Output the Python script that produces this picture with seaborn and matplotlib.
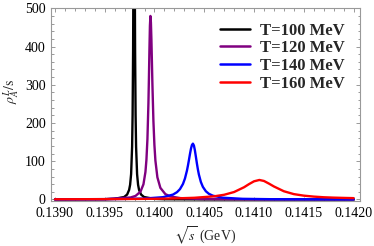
import numpy as np
import pandas as pd
import matplotlib
matplotlib.use("Agg")
import matplotlib.pyplot as plt
import seaborn as sns

# ---- data (sqrt(s) in GeV, rho_A^L / s) ----
x_T100 = [0.1390, 0.1395, 0.139595, 0.139695, 0.139725, 0.139745, 0.139755, 0.139765,
          0.139775, 0.139780, 0.139785, 0.139789, 0.139792, 0.139795, 0.139798, 0.139801,
          0.139805, 0.139810, 0.139815, 0.139825, 0.139835, 0.139845, 0.139865, 0.139895,
          0.139995, 0.140095, 0.1405, 0.1420]
y_T100 = [0.1, 0.7, 1.6, 6.4, 12.9, 25, 38.5, 66.4,
          138, 221, 390, 640, 877, 1000, 877, 640,
          390, 221, 138, 66.4, 38.5, 25, 12.9, 6.4,
          1.6, 0.7, 0.13, 0.0]

x_T120 = [0.1390, 0.1395, 0.139759, 0.139809, 0.139859, 0.139889, 0.139909, 0.139919,
          0.139929, 0.139939, 0.139944, 0.139949, 0.139954, 0.139959, 0.139964, 0.139969,
          0.139974, 0.139979, 0.139989, 0.139999, 0.140009, 0.140029, 0.140059, 0.140109,
          0.140159, 0.140259, 0.140459, 0.140959, 0.1420]
y_T120 = [0.23, 1.0, 5.2, 9.2, 20.3, 39.7, 72, 104,
          158, 252, 318, 391, 454, 480, 463, 418,
          360, 302, 206, 143, 102, 58, 30.4, 14.0,
          8.0, 3.6, 1.3, 0.32, 0.08]

x_T140 = [0.1390, 0.1395, 0.139886, 0.140086, 0.140186, 0.140226, 0.140256, 0.140286,
          0.140306, 0.140326, 0.140336, 0.140346, 0.140356, 0.140366, 0.140376, 0.140386,
          0.140396, 0.140406, 0.140416, 0.140426, 0.140436, 0.140446, 0.140466, 0.140486,
          0.140516, 0.140546, 0.140586, 0.140686, 0.140886, 0.141186, 0.1420]
y_T140 = [0.3, 0.7, 2.2, 6.0, 12.8, 19.1, 27.0, 40.5,
          54.8, 75.4, 88.5, 103.1, 118.3, 132.2, 142.3, 146,
          141.2, 128.4, 111.5, 94.3, 78.6, 65.3, 45.7, 33.0,
          21.5, 14.9, 9.9, 4.6, 1.7, 0.66, 0.16]

x_T160 = [0.1390, 0.1395, 0.1400, 0.1402, 0.1404, 0.1406, 0.1407, 0.1408,
          0.1409, 0.14095, 0.1410, 0.141054, 0.1411, 0.14115, 0.1412, 0.1413,
          0.1414, 0.1415, 0.1416, 0.1417, 0.1418, 0.1419, 0.1420]
y_T160 = [0.5, 0.8, 1.8, 2.7, 4.4, 8.3, 12.3, 19.5,
          32, 40.2, 47.5, 51, 48.4, 41.5, 34, 21.5,
          14, 10, 7.5, 5.8, 4.8, 4.1, 3.5]

labels = ["T=100 MeV", "T=120 MeV", "T=140 MeV", "T=160 MeV"]
colors = ["#000000", "#800080", "#0000ff", "#ff0000"]

xticks = [0.1390, 0.1395, 0.1400, 0.1405, 0.1410, 0.1415, 0.1420]
yticks = [0, 100, 200, 300, 400, 500]

# ---- build long table ----
frames = []
for xs, ys, lab in zip([x_T100, x_T120, x_T140, x_T160],
                       [y_T100, y_T120, y_T140, y_T160], labels):
    frames.append(pd.DataFrame({"x": xs, "y": ys, "T": lab}))
df = pd.concat(frames, ignore_index=True)

sns.set_style("ticks")
plt.rcParams["font.family"] = ["Liberation Serif", "DejaVu Serif"]
plt.rcParams["mathtext.fontset"] = "stix"

fig = plt.figure(figsize=(3.74, 2.46), dpi=100)
ax = fig.add_axes([50.7 / 374, 1 - 201 / 246, (360.3 - 50.7) / 374, (201 - 8.3) / 246])

sns.lineplot(data=df, x="x", y="y", hue="T", hue_order=labels,
             palette=dict(zip(labels, colors)), estimator=None, sort=False,
             linewidth=1.7, ax=ax)

ax.set_xlim(0.138957, 0.142068)
ax.set_ylim(-4, 500)
ax.set_xticks(xticks)
ax.set_xticklabels([f"{v:.4f}" for v in xticks])
ax.set_yticks(yticks)
ax.set_yticklabels([str(v) for v in yticks])
ax.xaxis.set_minor_locator(matplotlib.ticker.MultipleLocator(0.0001))
ax.yaxis.set_minor_locator(matplotlib.ticker.MultipleLocator(20))
ax.tick_params(which="both", direction="in", top=True, right=True,
               color="#999999", labelsize=10, labelcolor="black", width=0.7)
ax.tick_params(which="major", length=3.2)
ax.tick_params(axis="x", which="major", pad=4.0)
ax.tick_params(axis="y", which="major", pad=3.5)
ax.tick_params(which="minor", length=1.8)
for sp in ax.spines.values():
    sp.set_color("#999999")
    sp.set_linewidth(0.8)

ax.set_xlabel(r"$\sqrt{s}$ (GeV)", fontsize=10)
ax.set_ylabel(r"$\rho_A^L/\mathrm{s}$", fontsize=10)
ax.yaxis.set_label_coords(-0.093, 0.571)
ax.xaxis.set_label_coords(0.5, -0.122)

leg = ax.legend(loc="upper right", bbox_to_anchor=(0.951, 0.926), frameon=False,
                prop={"family": "Liberation Serif", "weight": "bold", "size": 12},
                handlelength=1.8, handletextpad=0.6, labelspacing=0.1,
                borderaxespad=0, borderpad=0)
for h in leg.get_lines():
    h.set_linewidth(1.8)

fig.savefig("out.png", dpi=100)
